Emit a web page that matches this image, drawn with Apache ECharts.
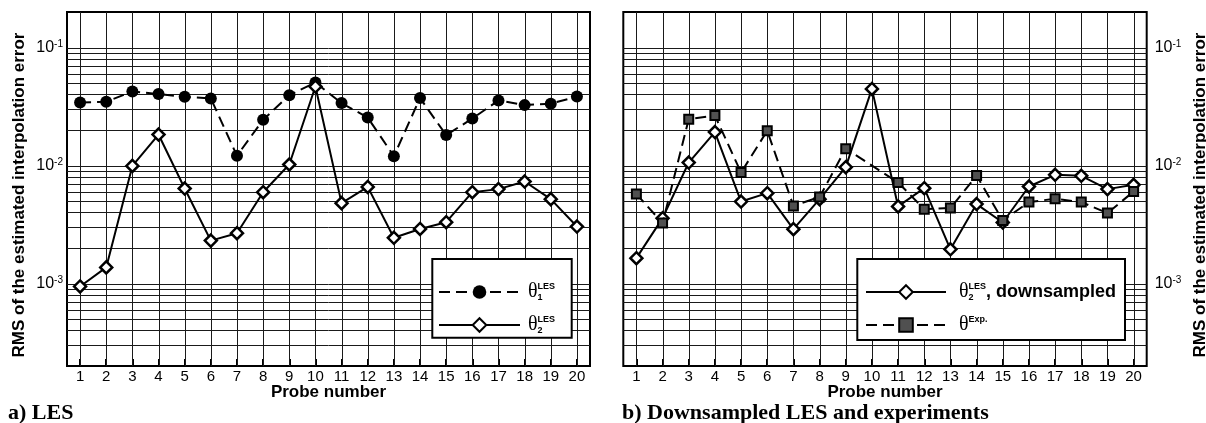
<!DOCTYPE html>
<html><head><meta charset="utf-8">
<script src="https://cdn.jsdelivr.net/npm/echarts@6/dist/echarts.min.js"></script>
<style>html,body{margin:0;padding:0;background:#fff}#c{width:1206px;height:423px}</style>
</head><body><div id="c"></div>
<script>
const probes = ['1','2','3','4','5','6','7','8','9','10','11','12','13','14','15','16','17','18','19','20'];
const theta1LES = [0.0342, 0.0347, 0.0424, 0.0403, 0.0382, 0.0370, 0.0121, 0.0244, 0.0394, 0.0505, 0.0338, 0.0255, 0.0120, 0.0373, 0.0181, 0.0250, 0.0356, 0.0325, 0.0334, 0.0384];
const theta2LES = [0.000944, 0.00137, 0.00993, 0.0183, 0.00638, 0.00231, 0.00267, 0.00594, 0.0102, 0.0467, 0.00480, 0.00659, 0.00244, 0.00290, 0.00331, 0.00594, 0.00631, 0.00732, 0.00519, 0.00304];
const theta2LESDown = [0.00164, 0.00358, 0.0106, 0.0192, 0.00495, 0.00583, 0.00289, 0.00519, 0.00968, 0.0446, 0.00450, 0.00643, 0.00195, 0.00471, 0.00329, 0.00664, 0.00834, 0.00818, 0.00631, 0.00686];
const thetaExp = [0.00575, 0.00325, 0.0247, 0.0265, 0.00872, 0.0197, 0.00455, 0.00540, 0.0139, null, 0.00718, 0.00427, 0.00436, 0.00822, 0.00342, 0.00490, 0.00523, 0.00490, 0.00395, 0.00602];
const yGridLines = [0.0003,0.0004,0.0005,0.0006,0.0007,0.0008,0.0009,
  0.001,0.002,0.003,0.004,0.005,0.006,0.007,0.008,0.009,
  0.01,0.02,0.03,0.04,0.05,0.06,0.07,0.08,0.09,0.1];
const yMin = 0.0002, yMax = 0.2;
const yAxisTitle = 'RMS of the estimated interpolation error';
const xAxisTitle = 'Probe number';

const SANS = '"Liberation Sans", Arial, Helvetica, sans-serif';
const SERIF = '"Liberation Serif", "Times New Roman", serif';

const chart = echarts.init(document.getElementById('c'), null, {renderer: 'canvas'});

function yLabel(v) {
  const e = Math.log10(v);
  const r = Math.round(e);
  if (Math.abs(e - r) > 1e-6) return '';
  return '{b|10}{s|' + r + '}';
}
const yRich = {
  b: {fontFamily: SANS, fontSize: 16, lineHeight: 16, color: '#000'},
  s: {fontFamily: SANS, fontSize: 10, lineHeight: 10, color: '#000', verticalAlign: 'top'}
};

function makeX(gridIndex) {
  return {
    type: 'category', gridIndex: gridIndex, data: probes, boundaryGap: true,
    axisLine: {show: false},
    axisTick: {show: true, inside: true, alignWithLabel: true, length: 7, lineStyle: {color: '#000', width: 2}},
    axisLabel: {color: '#000', fontFamily: SANS, fontSize: 15, margin: 3, interval: 0},
    splitLine: {show: false},
    name: xAxisTitle, nameLocation: 'middle', nameGap: 18, nameMoveOverlap: false,
    nameTextStyle: {color: '#000', fontFamily: SANS, fontSize: 17, fontWeight: 'bold'}
  };
}
function makeY(gridIndex, pos) {
  return {
    type: 'log', logBase: 10, gridIndex: gridIndex, position: pos, min: yMin, max: yMax,
    axisLine: {show: false}, axisTick: {show: false}, splitLine: {show: false},
    axisLabel: {formatter: yLabel, rich: yRich, margin: pos === 'left' ? 4 : 8, showMinLabel: false, showMaxLabel: false},
    name: yAxisTitle, nameLocation: 'middle', nameRotate: 90, nameGap: pos === 'left' ? 39 : 45, nameMoveOverlap: false,
    nameTextStyle: {color: '#000', fontFamily: SANS, fontSize: 17, fontWeight: 'bold', padding: [0, 12, 0, 0]}
  };
}
// grid lines drawn through the axes' own scales
function hGridSeries(ax) {
  return {
    type: 'custom', xAxisIndex: ax, yAxisIndex: ax, silent: true, z: 1, animation: false,
    data: yGridLines.map(v => [0, v]), encode: {x: 0, y: 1},
    renderItem: function (params, api) {
      const cs = params.coordSys;
      const y = Math.round(api.coord([0, api.value(1)])[1]) + 0.5;
      return {type: 'line', shape: {x1: cs.x, y1: y, x2: cs.x + cs.width, y2: y},
        style: {stroke: '#1a1a1a', lineWidth: 1}};
    }
  };
}
function vGridSeries(ax) {
  return {
    type: 'custom', xAxisIndex: ax, yAxisIndex: ax, silent: true, z: 1, animation: false,
    data: probes.map((p, i) => [i, yMin]), encode: {x: 0, y: 1},
    renderItem: function (params, api) {
      const cs = params.coordSys;
      const x = Math.round(api.coord([api.value(0), yMin])[0]) + 0.5;
      return {type: 'line', shape: {x1: x, y1: cs.y, x2: x, y2: cs.y + cs.height},
        style: {stroke: '#1a1a1a', lineWidth: 1}};
    }
  };
}

const dashed = [11, 6];
const seriesStyle = {
  t1: {symbol: 'circle', symbolSize: 12, lineStyle: {color: '#000', width: 2, type: dashed},
       itemStyle: {color: '#000', borderColor: '#000', borderWidth: 0}},
  t2: {symbol: 'diamond', symbolSize: 12, lineStyle: {color: '#000', width: 2, type: 'solid'},
       itemStyle: {color: '#fff', borderColor: '#000', borderWidth: 2.5}},
  ex: {symbol: 'rect', symbolSize: 9, lineStyle: {color: '#000', width: 2, type: dashed},
       itemStyle: {color: '#505050', borderColor: '#000', borderWidth: 2}}
};
function dataSeries(name, data, ax, st, z) {
  return Object.assign({
    name: name, type: 'line', xAxisIndex: ax, yAxisIndex: ax, data: data, z: z,
    connectNulls: true, showAllSymbol: true, animation: false, silent: true
  }, st);
}

const legendRich = (pad) => ({
  th: {fontFamily: SERIF, fontSize: 20, lineHeight: 20, color: '#000', padding: [0, 0, 0, pad]},
  sub: {fontFamily: SANS, fontWeight: 'bold', fontSize: 9, lineHeight: 10, color: '#000', verticalAlign: 'bottom', width: 0},
  sup: {fontFamily: SANS, fontWeight: 'bold', fontSize: 9, lineHeight: 10, color: '#000', verticalAlign: 'top'},
  txt: {fontFamily: SANS, fontWeight: 'bold', fontSize: 18, lineHeight: 20, color: '#000'}
});
const legendText = {
  'θ1 LES': '{th|θ}{sub|1}{sup|LES}',
  'θ2 LES': '{th|θ}{sub|2}{sup|LES}',
  'θ2 LES downsampled': '{th|θ}{sub|2}{sup|LES}{txt|, downsampled}',
  'θ Exp.': '{th|θ}{sup|Exp.}'
};

const option = {
  backgroundColor: '#fff',
  animation: false,
  grid: [
    {left: 67, top: 12, width: 523, height: 354, show: true, borderColor: '#000', borderWidth: 2, backgroundColor: '#fff', containLabel: false, outerBoundsMode: 'none'},
    {left: 623.3, top: 12, width: 523.4, height: 354, show: true, borderColor: '#000', borderWidth: 2, backgroundColor: '#fff', containLabel: false, outerBoundsMode: 'none'}
  ],
  xAxis: [makeX(0), makeX(1)],
  yAxis: [makeY(0, 'left'), makeY(1, 'right')],
  legend: [
    {data: ['θ1 LES', 'θ2 LES'], orient: 'vertical', left: 438, top: 282, padding: 0, itemGap: 13,
     itemWidth: 81, itemHeight: 17, formatter: n => legendText[n], textStyle: {rich: legendRich(3)},
     selectedMode: false, z: 5},
    {data: ['θ2 LES downsampled', 'θ Exp.'], orient: 'vertical', left: 865, top: 282, padding: 0, itemGap: 13,
     itemWidth: 80, itemHeight: 17, formatter: n => legendText[n], textStyle: {rich: legendRich(8)},
     selectedMode: false, z: 5}
  ],
  graphic: [
    {type: 'rect', z: 3, shape: {x: 432.3, y: 259, width: 139.4, height: 78.7}, style: {fill: '#fff', stroke: '#000', lineWidth: 2}},
    {type: 'rect', z: 3, shape: {x: 857.3, y: 259, width: 267.7, height: 81}, style: {fill: '#fff', stroke: '#000', lineWidth: 2}},
    {type: 'text', z: 3, style: {text: 'a) LES', x: 8, y: 413, fill: '#000', font: 'bold 22px ' + SERIF, textVerticalAlign: 'middle'}},
    {type: 'text', z: 3, style: {text: 'b) Downsampled LES and experiments', x: 622, y: 413, fill: '#000', font: 'bold 22px ' + SERIF, textVerticalAlign: 'middle'}}
  ],
  series: [
    hGridSeries(0), vGridSeries(0),
    hGridSeries(1), vGridSeries(1),
    dataSeries('θ1 LES', theta1LES, 0, seriesStyle.t1, 4),
    dataSeries('θ2 LES', theta2LES, 0, seriesStyle.t2, 5),
    dataSeries('θ2 LES downsampled', theta2LESDown, 1, seriesStyle.t2, 4),
    dataSeries('θ Exp.', thetaExp, 1, seriesStyle.ex, 5)
  ]
};
chart.setOption(option);
</script></body></html>
